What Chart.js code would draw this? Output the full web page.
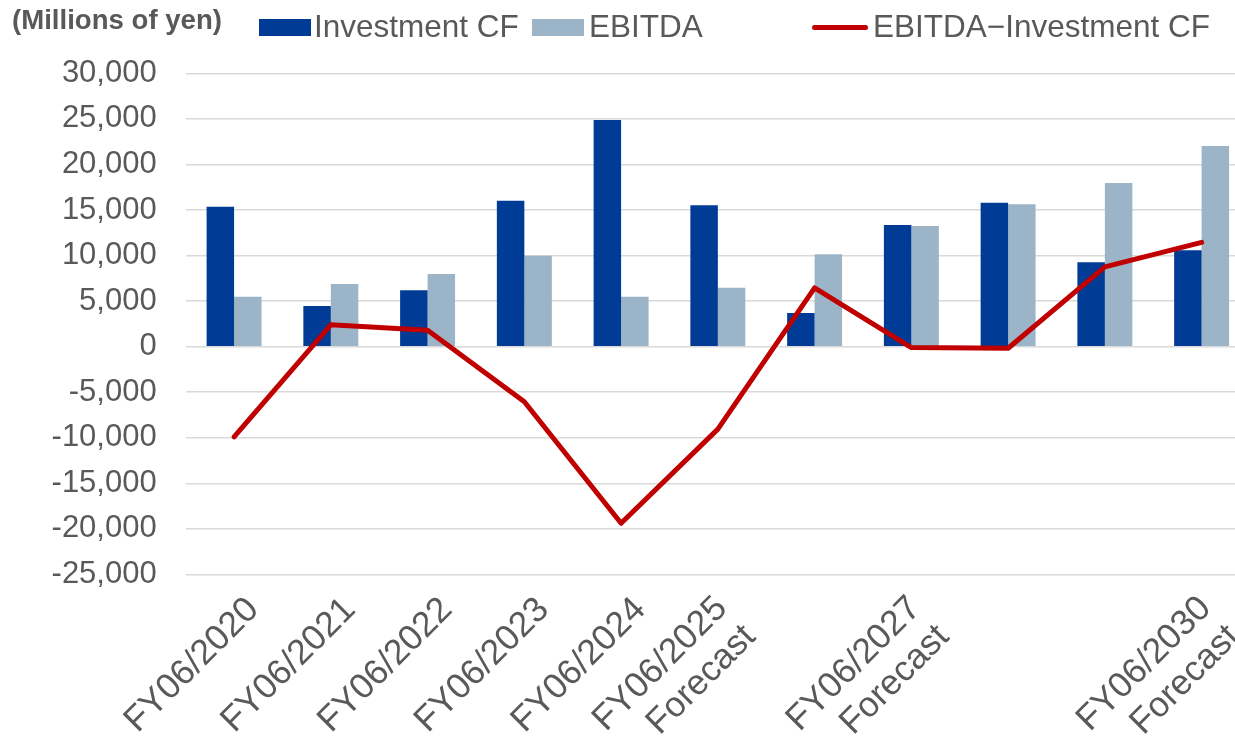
<!DOCTYPE html>
<html>
<head>
<meta charset="utf-8">
<script src="https://cdn.jsdelivr.net/npm/chart.js@4.4.1/dist/chart.umd.min.js"></script>
<style>
  html, body { margin: 0; padding: 0; background: #ffffff; overflow: hidden; }
  #wrap { position: relative; width: 1235px; height: 744px; overflow: hidden; background: #ffffff; }
  #c { position: absolute; left: 0; top: 0; }
  .t { position: absolute; font-family: 'Liberation Sans', Arial, sans-serif; color: #595959; white-space: nowrap; line-height: 1; }
  .title { left: 12px; top: 6px; font-size: 27.6px; font-weight: bold; }
  .lg { top: 10.5px; font-size: 31.5px; }
  .box { position: absolute; top: 19px; width: 52px; height: 17px; }
  .ln { position: absolute; top: 25px; height: 5px; width: 56px; border-radius: 2.5px; }
</style>
</head>
<body>
<div id="wrap">
  <canvas id="c" width="1250" height="744"></canvas>
  <div class="t title">(Millions of yen)</div>
  <div class="box" style="left:259px;background:#003C96;"></div>
  <div class="t lg" style="left:314px;">Investment CF</div>
  <div class="box" style="left:532px;background:#9BB4C7;"></div>
  <div class="t lg" style="left:589px;">EBITDA</div>
  <div class="ln" style="left:812px;background:#C00000;"></div>
  <div class="t lg" style="left:873px;">EBITDA−Investment CF</div>
</div>
<script>
// ---- Data ----
const categories = [
  "FY06/2020", "FY06/2021", "FY06/2022", "FY06/2023", "FY06/2024",
  "FY06/2025 Forecast", "FY06/2026 Forecast", "FY06/2027 Forecast",
  "FY06/2028 Forecast", "FY06/2029 Forecast", "FY06/2030 Forecast"
];
const tickLabels = [
  ["FY06/2020"], ["FY06/2021"], ["FY06/2022"], ["FY06/2023"], ["FY06/2024"],
  ["FY06/2025", "Forecast"], [""], ["FY06/2027", "Forecast"], [""], [""],
  ["FY06/2030", "Forecast"]
];
const investmentCF = [15350, 4470, 6190, 16020, 24880, 15520, 3700, 13360, 15800, 9260, 10580];
const ebitda = [5480, 6880, 7980, 9990, 5490, 6480, 10140, 13250, 15630, 17970, 22030];
const ebitdaMinusInvestmentCF = [-9900, 2400, 1800, -6050, -19380, -9050, 6450, -100, -170, 8750, 11450];
const yMin = -25000;
const yMax = 30000;
const yStep = 5000;

// ---- Chart ----
const FONT = "'Liberation Sans', Arial, sans-serif";
const X_FONT_SIZE = 35.4;
const isSingle = (i) => i !== undefined && tickLabels[i] && tickLabels[i].length === 1;

new Chart(document.getElementById('c'), {
  type: 'bar',
  data: {
    labels: categories,
    datasets: [
      {
        label: 'Investment CF',
        data: investmentCF,
        backgroundColor: '#003C96',
        categoryPercentage: 0.568,
        barPercentage: 1.0,
        order: 2
      },
      {
        label: 'EBITDA',
        data: ebitda,
        backgroundColor: '#9BB4C7',
        categoryPercentage: 0.568,
        barPercentage: 1.0,
        order: 2
      },
      {
        type: 'line',
        label: 'EBITDA−Investment CF',
        data: ebitdaMinusInvestmentCF,
        borderColor: '#C00000',
        backgroundColor: '#C00000',
        borderWidth: 5,
        pointRadius: 0,
        pointHoverRadius: 0,
        tension: 0,
        borderCapStyle: 'round',
        borderJoinStyle: 'round',
        fill: false,
        order: 0
      }
    ]
  },
  options: {
    responsive: false,
    maintainAspectRatio: false,
    devicePixelRatio: 1,
    animation: false,
    layout: { padding: { top: 73.3, bottom: 0, left: 0, right: 0 } },
    plugins: {
      legend: { display: false },
      title: { display: false },
      tooltip: { enabled: false }
    },
    scales: {
      x: {
        offset: true,
        grid: { display: false, drawTicks: false },
        border: { display: false },
        ticks: {
          autoSkip: false,
          maxRotation: 45,
          minRotation: 45,
          padding: 14.25,
          labelOffset: 3.8,
          color: '#595959',
          showLabelBackdrop: (c) => isSingle(c.index),
          backdropColor: 'rgba(255,255,255,0)',
          backdropPadding: 0,
          font: (c) => ({
            family: FONT,
            size: X_FONT_SIZE,
            lineHeight: isSingle(c.index) ? 43.8 / X_FONT_SIZE : 40.3 / X_FONT_SIZE
          }),
          callback: (v, i) => {
            const lab = tickLabels[i];
            return lab.length === 1 ? lab[0] : lab;
          }
        },
        afterFit: (s) => { s.height = 169.5; s.paddingLeft = 0; s.paddingRight = 0; }
      },
      y: {
        min: yMin,
        max: yMax,
        grid: { color: '#D9D9D9', lineWidth: 1.5, drawTicks: false },
        border: { display: false },
        ticks: {
          stepSize: yStep,
          padding: 29,
          color: '#595959',
          font: { family: FONT, size: 31 },
          callback: (v) => Number(v).toLocaleString('en-US')
        },
        afterFit: (s) => { s.width = 185.7; }
      }
    }
  }
});
</script>
</body>
</html>
